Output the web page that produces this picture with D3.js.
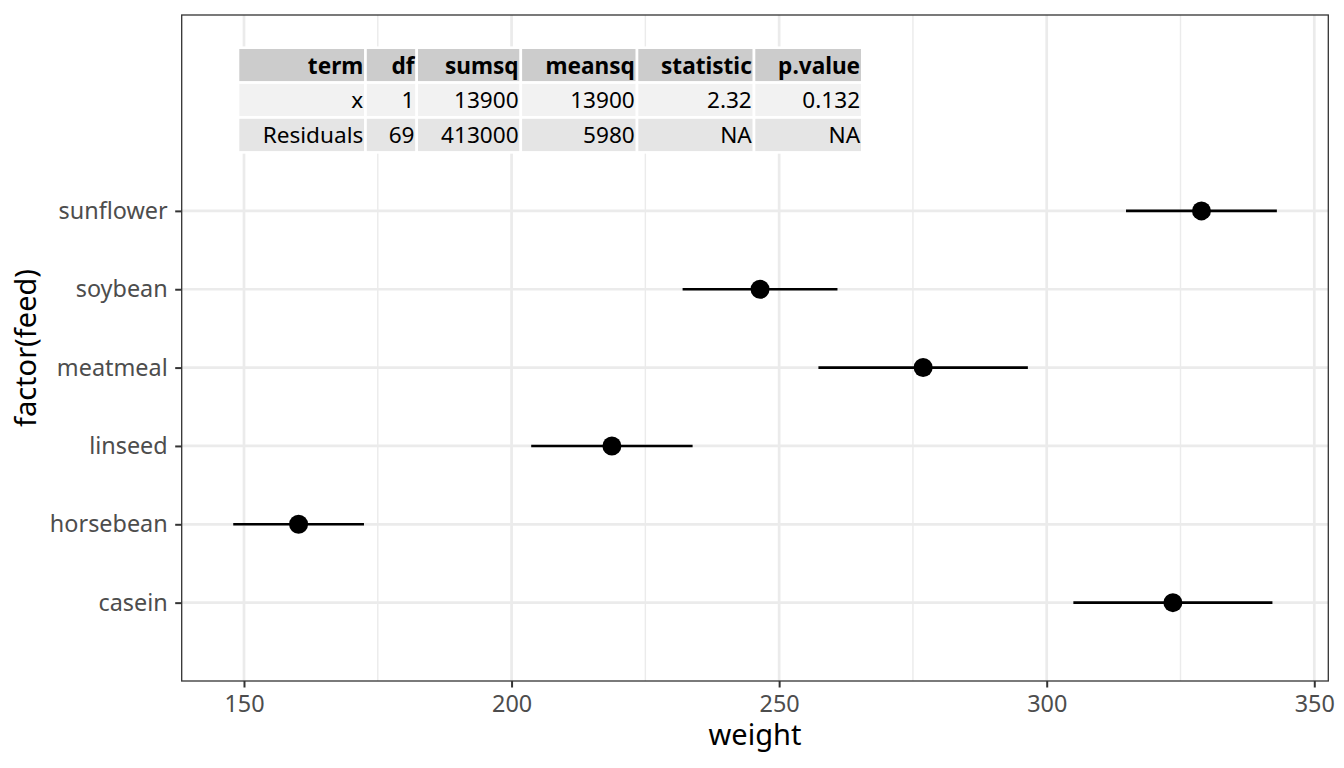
<!DOCTYPE html>
<html lang="en">
<head>
    <meta charset="UTF-8">
    <title>chickwts weight by feed</title>
    <style>
        body {
            margin: 0;
            background: #ffffff;
        }
        svg text {
            font-family: "Noto Sans", "Open Sans", sans-serif;
        }
    </style>
</head>
<body>
<div id="chart"></div>

<script src="https://d3js.org/d3.v7.min.js"></script>
<script>
    // feed groups, bottom to top
    const feeds = ["casein", "horsebean", "linseed", "meatmeal", "soybean", "sunflower"];
    const means = [323.58, 160.20, 218.75, 276.91, 246.43, 328.92];
    const lower = [304.98, 147.99, 203.67, 257.34, 231.96, 314.82];
    const upper = [342.18, 172.42, 233.83, 296.48, 260.90, 343.01];

    const xTicks = [150, 200, 250, 300, 350];
    const xMinor = [175, 225, 275, 325];

    // anova table
    const tableHeader = ["term", "df", "sumsq", "meansq", "statistic", "p.value"];
    const tableRows = [
        ["x", "1", "13900", "13900", "2.32", "0.132"],
        ["Residuals", "69", "413000", "5980", "NA", "NA"]
    ];

    const W = 1344, H = 768;
    const panel = { left: 181.7, right: 1328.3, top: 15, bottom: 681 };

    const svg = d3.select("#chart").append("svg")
        .attr("width", W)
        .attr("height", H);

    const x = d3.scaleLinear().domain([138.36, 352.62]).range([panel.left, panel.right]);
    // discrete positions 1..6, panel spans 0..8.5 (the table extends it)
    const y = d3.scaleLinear().domain([0, 8.5]).range([panel.bottom, panel.top]);
    const yPos = f => y(feeds.indexOf(f) + 1);

    // grid
    const grid = svg.append("g");
    grid.selectAll(".minor")
        .data(xMinor)
        .enter().append("line")
        .attr("x1", d => x(d)).attr("x2", d => x(d))
        .attr("y1", panel.top).attr("y2", panel.bottom)
        .attr("stroke", "#ebebeb").attr("stroke-width", 1.4);
    grid.selectAll(".major")
        .data(xTicks)
        .enter().append("line")
        .attr("x1", d => x(d)).attr("x2", d => x(d))
        .attr("y1", panel.top).attr("y2", panel.bottom)
        .attr("stroke", "#ebebeb").attr("stroke-width", 2.7);
    grid.selectAll(".hmajor")
        .data(feeds)
        .enter().append("line")
        .attr("x1", panel.left).attr("x2", panel.right)
        .attr("y1", d => yPos(d)).attr("y2", d => yPos(d))
        .attr("stroke", "#ebebeb").attr("stroke-width", 2.7);

    // point ranges
    const marks = svg.append("g");
    marks.selectAll(".range")
        .data(feeds)
        .enter().append("line")
        .attr("x1", (d, i) => x(lower[i]))
        .attr("x2", (d, i) => x(upper[i]))
        .attr("y1", d => yPos(d)).attr("y2", d => yPos(d))
        .attr("stroke", "#000").attr("stroke-width", 2.6);
    marks.selectAll(".pt")
        .data(feeds)
        .enter().append("circle")
        .attr("cx", (d, i) => x(means[i]))
        .attr("cy", d => yPos(d))
        .attr("r", 9.5)
        .attr("fill", "#000");

    // table
    const colWidths = [127.5, 51.2, 104.1, 116.2, 117, 108.3];
    const rowH = 34.9;
    const tableX = 238, tableY = 47.7;
    const colX = [tableX];
    colWidths.forEach(w => colX.push(colX[colX.length - 1] + w));
    const allRows = [tableHeader].concat(tableRows);
    const fills = ["#cccccc", "#f2f2f2", "#e5e5e5"];

    const tbl = svg.append("g");
    allRows.forEach((row, r) => {
        row.forEach((cell, c) => {
            tbl.append("rect")
                .attr("x", colX[c]).attr("y", tableY + r * rowH)
                .attr("width", colWidths[c]).attr("height", rowH)
                .attr("fill", fills[r])
                .attr("stroke", "#ffffff").attr("stroke-width", 2.6);
            tbl.append("text")
                .attr("x", colX[c + 1] - 2.2)
                .attr("y", tableY + r * rowH + 25.8)
                .attr("text-anchor", "end")
                .attr("font-size", "22.6px")
                .attr("font-weight", r === 0 ? "bold" : "normal")
                .attr("fill", "#000")
                .text(cell);
        });
    });

    // panel border
    svg.append("rect")
        .attr("x", panel.left).attr("y", panel.top)
        .attr("width", panel.right - panel.left).attr("height", panel.bottom - panel.top)
        .attr("fill", "none").attr("stroke", "#333333").attr("stroke-width", 1.3);

    // axes
    const xAxis = svg.append("g")
        .attr("transform", `translate(0, ${panel.bottom})`)
        .call(d3.axisBottom(x).tickValues(xTicks).tickSize(6.5).tickPadding(7.5).tickFormat(d3.format("d")));
    xAxis.select(".domain").remove();
    xAxis.selectAll(".tick line").attr("stroke", "#333333").attr("stroke-width", 2);
    xAxis.selectAll(".tick text")
        .attr("font-size", "23.4px").attr("fill", "#4d4d4d")
        .attr("font-family", null);

    const yAxis = svg.append("g")
        .attr("transform", `translate(${panel.left}, 0)`)
        .call(d3.axisLeft(d3.scalePoint().domain(feeds).range([yPos(feeds[0]), yPos(feeds[5])]))
            .tickSize(6.5).tickPadding(7.5));
    yAxis.select(".domain").remove();
    yAxis.selectAll(".tick line").attr("stroke", "#333333").attr("stroke-width", 2);
    yAxis.selectAll(".tick text")
        .attr("font-size", "23.4px").attr("fill", "#4d4d4d")
        .attr("font-family", null);

    // titles
    svg.append("text")
        .attr("x", (panel.left + panel.right) / 2)
        .attr("y", 745)
        .attr("text-anchor", "middle")
        .attr("font-size", "29px")
        .attr("fill", "#000")
        .text("weight");

    svg.append("text")
        .attr("transform", `translate(35.5, ${(panel.top + panel.bottom) / 2}) rotate(-90)`)
        .attr("text-anchor", "middle")
        .attr("font-size", "29px")
        .attr("fill", "#000")
        .text("factor(feed)");
</script>
</body>
</html>
